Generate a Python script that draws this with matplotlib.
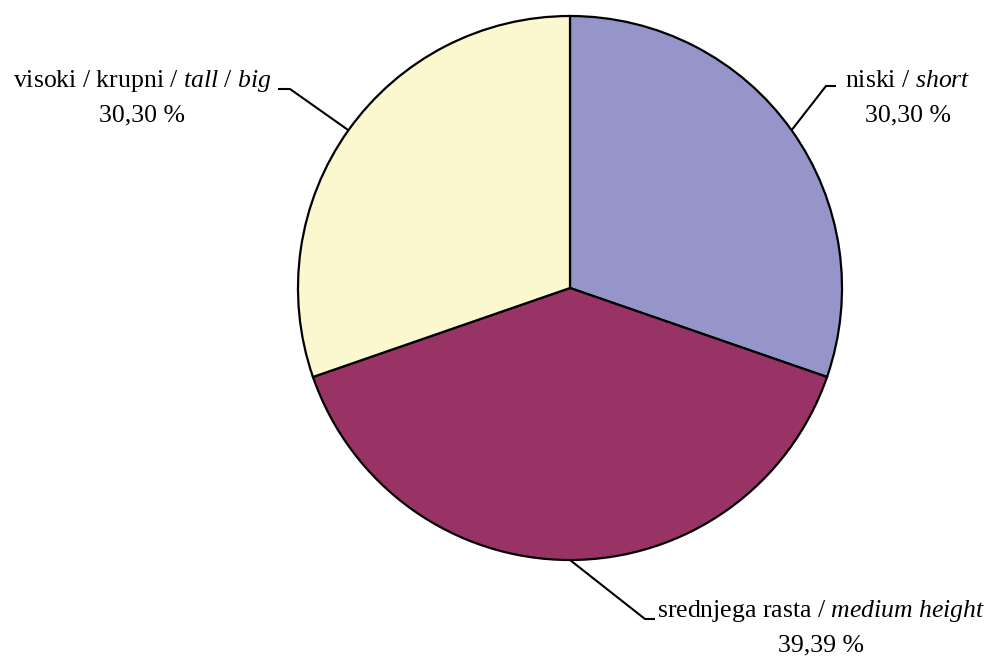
import matplotlib.pyplot as plt
import numpy as np

plt.rcParams['font.family'] = ['Liberation Serif', 'DejaVu Serif']
plt.rcParams['mathtext.fontset'] = 'custom'
plt.rcParams['mathtext.rm'] = 'Liberation Serif'
plt.rcParams['mathtext.it'] = 'Liberation Serif:italic'

labels_hr = ['niski / ', 'srednjega rasta / ', 'visoki / krupni / ']
labels_en = ['short', 'medium height', 'tall / big']
shares = [30.30, 39.39, 30.30]
pct_text = ['30,30 %', '39,39 %', '30,30 %']
colors = ['#9595c9', '#993366', '#fbf8cf']

fs = 18.5
cx, cy, r = 570, 370, 272

fig = plt.figure(figsize=(9.9, 6.58), dpi=100)
ax = fig.add_axes([0, 0, 1, 1])
wedges, _ = ax.pie(shares, colors=colors, startangle=90, counterclock=False,
                   center=(cx, cy), radius=r,
                   wedgeprops=dict(edgecolor='black', linewidth=1.6))
ax.set_xlim(0, 990)
ax.set_ylim(0, 658)
ax.set_aspect('equal')
ax.axis('off')

# leader line knee / end points and label placement (pixel space, y up)
knees = [(826, 572), (645, 39), (290, 569)]
ends = [(836, 572), (655, 39), (278, 569)]
label_pos = [(908, 571), (821, 41), (142, 571)]

for i, w in enumerate(wedges):
    ang = np.deg2rad((w.theta1 + w.theta2) / 2)
    px, py = cx + r * np.cos(ang), cy + r * np.sin(ang)
    ax.plot([px, knees[i][0], ends[i][0]], [py, knees[i][1], ends[i][1]],
            color='black', lw=1.5, solid_capstyle='butt')
    en = labels_en[i].replace(' ', r'\ ')
    ax.text(label_pos[i][0], label_pos[i][1], labels_hr[i] + r'$\mathit{' + en + '}$',
            ha='center', va='baseline', fontsize=fs)
    ax.text(label_pos[i][0], label_pos[i][1] - 34, pct_text[i],
            ha='center', va='baseline', fontsize=fs)

fig.savefig('out.png', dpi=100)
